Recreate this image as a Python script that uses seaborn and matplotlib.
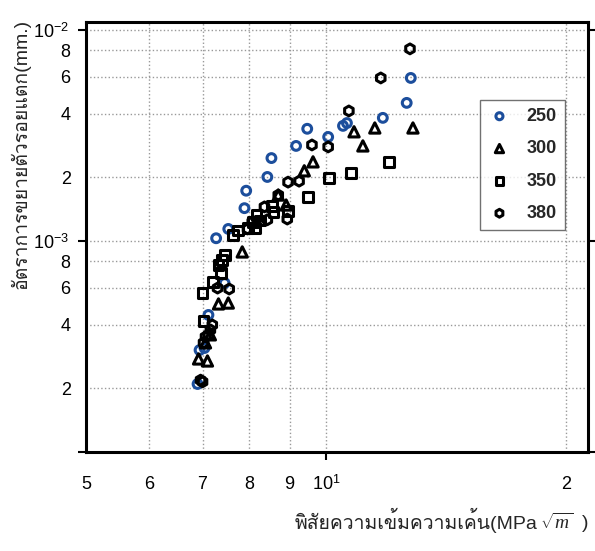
import pandas as pd
import seaborn as sns
import matplotlib.pyplot as plt
from matplotlib import font_manager
from matplotlib.ft2font import FT2Font
from matplotlib.ticker import FixedLocator, FixedFormatter

# Data (x in MPa*sqrt(m), y in mm/cycle)
x_250 = [6.90, 6.94, 7.04, 7.12, 7.46, 7.28, 7.54, 7.90, 7.94, 8.44, 8.54, 9.17, 9.47,
         10.06, 10.50, 10.62, 11.78, 12.62, 12.77]
y_250 = [2.10e-4, 3.04e-4, 3.11e-4, 4.46e-4, 6.32e-4, 1.03e-3, 1.14e-3, 1.43e-3, 1.73e-3,
         2.01e-3, 2.47e-3, 2.82e-3, 3.40e-3, 3.11e-3, 3.51e-3, 3.62e-3, 3.83e-3, 4.51e-3, 5.92e-3]

x_300 = [6.92, 7.10, 7.06, 7.16, 7.33, 7.54, 7.85, 8.71, 8.91, 9.39, 9.63, 10.84, 11.12,
         11.51, 12.85]
y_300 = [2.76e-4, 2.70e-4, 3.29e-4, 3.59e-4, 5.03e-4, 5.08e-4, 8.87e-4, 1.65e-3, 1.48e-3,
         2.15e-3, 2.37e-3, 3.29e-3, 2.82e-3, 3.43e-3, 3.43e-3]

x_350 = [7.00, 7.02, 7.22, 7.33, 7.39, 7.41, 7.46, 7.65, 7.76, 7.99, 8.10, 8.15, 8.18,
         8.27, 8.56, 8.59, 8.96, 9.49, 10.09, 10.75, 11.99]
y_350 = [5.67e-4, 4.18e-4, 6.39e-4, 7.69e-4, 7.05e-4, 8.13e-4, 8.59e-4, 1.07e-3, 1.12e-3,
         1.15e-3, 1.23e-3, 1.15e-3, 1.33e-3, 1.25e-3, 1.47e-3, 1.37e-3, 1.39e-3, 1.62e-3,
         1.99e-3, 2.10e-3, 2.37e-3]

x_380 = [6.96, 7.00, 7.06, 7.12, 7.16, 7.20, 7.02, 7.31, 7.56, 7.97, 8.08, 8.37, 8.44,
         8.94, 8.71, 8.96, 9.25, 9.60, 10.06, 10.68, 11.71, 12.74]
y_380 = [2.19e-4, 2.15e-4, 3.51e-4, 3.59e-4, 3.79e-4, 4.00e-4, 3.29e-4, 5.98e-4, 5.92e-4,
         1.14e-3, 1.23e-3, 1.45e-3, 1.26e-3, 1.27e-3, 1.65e-3, 1.90e-3, 1.92e-3, 2.85e-3,
         2.79e-3, 4.13e-3, 5.92e-3, 8.13e-3]

x_ticks = [5, 6, 7, 8, 9, 20]
x_tick_labels = ['5', '6', '7', '8', '9', '2']
y_minor_ticks = [2e-4, 4e-4, 6e-4, 8e-4, 2e-3, 4e-3, 6e-3, 8e-3]
y_minor_labels = ['2', '4', '6', '8', '2', '4', '6', '8']

series = [
    ('250', x_250, y_250, 'o', '#1c4e9c', 40),
    ('300', x_300, y_300, '^', 'black', 55),
    ('350', x_350, y_350, 's', 'black', 50),
    ('380', x_380, y_380, 'h', 'black', 50),
]

# find some installed font that has Thai glyphs
thai_font = None
for f in font_manager.fontManager.ttflist:
    try:
        if ord('ก') in FT2Font(f.fname).get_charmap():
            thai_font = f.name
            break
    except Exception:
        pass

sns.set_theme(style='white')
families = ['Liberation Sans']
if thai_font:
    families.append(thai_font)
families.append('DejaVu Sans')
plt.rcParams['font.family'] = families
plt.rcParams['mathtext.fontset'] = 'custom'
plt.rcParams['mathtext.rm'] = 'Liberation Sans'
plt.rcParams['mathtext.it'] = 'Liberation Serif:italic'

fig = plt.figure(figsize=(5.95, 5.51), dpi=100)
ax = fig.add_axes([86 / 595, 1 - 452 / 551, 502 / 595, 430 / 551])

for name, xs, ys, mk, col, sz in series:
    df = pd.DataFrame({'x': xs, 'y': ys})
    sns.scatterplot(data=df, x='x', y='y', ax=ax, marker=mk, s=sz,
                    facecolor='none', edgecolor=col, linewidth=2.2, label=name)

ax.set_xscale('log')
ax.set_yscale('log')
ax.set_xlim(5.0, 21.3)
ax.set_ylim(1e-4, 1.09e-2)

ax.xaxis.set_major_locator(FixedLocator([10]))
ax.xaxis.set_major_formatter(FixedFormatter(['$10^{1}$']))
ax.xaxis.set_minor_locator(FixedLocator(x_ticks))
ax.xaxis.set_minor_formatter(FixedFormatter(x_tick_labels))

ax.yaxis.set_major_locator(FixedLocator([1e-4, 1e-3, 1e-2]))
ax.yaxis.set_major_formatter(FixedFormatter(['', '$10^{-3}$', '$10^{-2}$']))
ax.yaxis.set_minor_locator(FixedLocator(y_minor_ticks))
ax.yaxis.set_minor_formatter(FixedFormatter(y_minor_labels))

ax.tick_params(axis='both', which='both', labelsize=13, colors='black')
ax.tick_params(axis='x', which='major', length=6, width=1.5, direction='out', bottom=True, pad=10)
ax.tick_params(axis='x', which='minor', length=0, pad=17)
ax.tick_params(axis='y', which='major', length=6, width=1.5, direction='out',
               left=True, right=True, pad=6)
ax.tick_params(axis='y', which='minor', length=0, pad=11)

# dotted grid on every decade subdivision
ax.grid(True, which='both', linestyle=':', linewidth=1.0, color='0.6')
ax.set_axisbelow(True)
for sp in ax.spines.values():
    sp.set_color('black')
    sp.set_linewidth(2.2)

ax.set_xlabel('')
ax.set_ylabel('')

leg = ax.legend(loc='upper right', bbox_to_anchor=(0.954, 0.819), borderaxespad=0,
                frameon=True, fancybox=False, edgecolor='0.3',
                prop={'weight': 'bold', 'size': 13},
                handletextpad=0.9, labelspacing=0.85, borderpad=0.45, handlelength=1.2,
                markerscale=0.8)
leg.get_frame().set_linewidth(1.0)

fig.text(0.035, 0.72, 'อัตราการขยายตัวรอยแตก(mm.)', rotation=90, ha='center', va='center',
         fontsize=14)

# x label: Thai text and the math part drawn as two pieces so the Thai glyphs keep their font
x_lab_y = 0.04
t_math = fig.text(0.99, x_lab_y, r'$\sqrt{m}$  )', ha='right', va='baseline', fontsize=14)
fig.canvas.draw()
w = t_math.get_window_extent().width / fig.bbox.width
fig.text(0.99 - w - 0.004, x_lab_y, 'พิสัยความเข้มความเค้น(MPa', ha='right', va='baseline',
         fontsize=14)

fig.savefig('out.png', dpi=100)
